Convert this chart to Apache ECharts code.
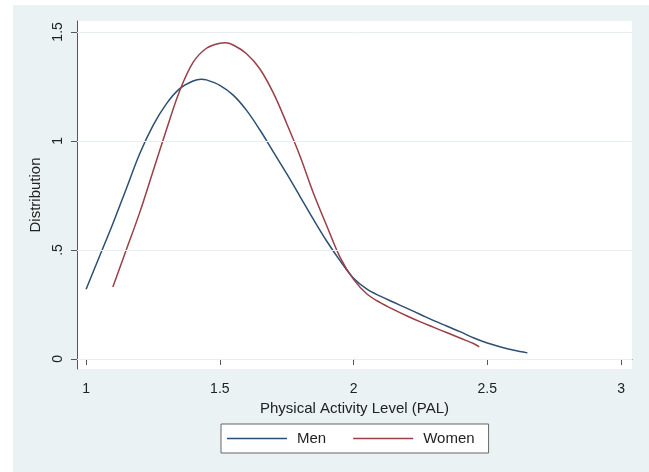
<!DOCTYPE html>
<html>
<head>
<meta charset="utf-8">
<script src="https://cdn.jsdelivr.net/npm/echarts@6/dist/echarts.min.js"></script>
<style>
html,body{margin:0;padding:0;background:#fff;}
#chart{width:649px;height:472px;}
</style>
</head>
<body>
<div id="chart"></div>
<script>
// Data
const menX = [1.00,1.05,1.10,1.15,1.20,1.25,1.30,1.35,1.40,1.43,1.45,1.50,1.55,1.60,1.65,1.70,1.75,1.80,1.85,1.90,1.95,2.00,2.05,2.10,2.15,2.20,2.25,2.30,2.35,2.40,2.45,2.50,2.55,2.60,2.65];
const menY = [0.32,0.47,0.62,0.78,0.94,1.07,1.17,1.24,1.275,1.283,1.28,1.255,1.21,1.14,1.05,0.95,0.85,0.745,0.64,0.54,0.45,0.37,0.32,0.288,0.26,0.232,0.204,0.176,0.15,0.124,0.096,0.073,0.055,0.04,0.028];
const womenX = [1.10,1.15,1.20,1.25,1.30,1.35,1.40,1.45,1.50,1.52,1.55,1.60,1.65,1.70,1.75,1.80,1.85,1.90,1.95,2.00,2.05,2.10,2.15,2.20,2.25,2.30,2.35,2.40,2.45,2.47];
const womenY = [0.33,0.50,0.67,0.86,1.05,1.23,1.36,1.425,1.448,1.45,1.44,1.40,1.33,1.22,1.08,0.93,0.76,0.61,0.465,0.365,0.298,0.258,0.226,0.197,0.17,0.145,0.12,0.095,0.07,0.056];
const xTicks = [1, 1.5, 2, 2.5, 3];
const xTickLabels = ['1', '1.5', '2', '2.5', '3'];
const yTicks = [0, 0.5, 1, 1.5];
const yTickLabels = ['0', '.5', '1', '1.5'];
const seriesNames = ['Men', 'Women'];

const FONT = 'Liberation Sans, Arial, sans-serif';
const TXT = '#222';
const AX = '#555';
const MEN = '#2c4f72';
const WOMEN = '#9a3e48';

const chart = echarts.init(document.getElementById('chart'), null, {renderer: 'canvas'});
chart.setOption({
  animation: false,
  backgroundColor: '#ffffff',
  graphic: [{
    type: 'rect', z: -100, silent: true,
    shape: {x: 13, y: 5, width: 636, height: 467},
    style: {fill: '#eaf2f3'}
  }],
  grid: {left: 77, right: 17, top: 21, bottom: 103, show: true, backgroundColor: '#ffffff', borderWidth: 0},
  xAxis: {
    type: 'value', min: 0.966, max: 3.041,
    name: 'Physical Activity Level (PAL)', nameLocation: 'middle', nameGap: 26,
    nameTextStyle: {fontFamily: FONT, fontSize: 15, color: TXT},
    axisLine: {show: true, lineStyle: {color: AX, width: 1}},
    axisTick: {show: true, length: 6, customValues: xTicks, lineStyle: {color: AX}},
    axisLabel: {customValues: xTicks, margin: 13, fontFamily: FONT, fontSize: 14, color: TXT,
      formatter: v => xTickLabels[xTicks.indexOf(v)] ?? ''},
    splitLine: {show: false}
  },
  yAxis: {
    type: 'value', min: -0.046, max: 1.55,
    name: 'Distribution', nameLocation: 'middle', nameGap: 30,
    nameTextStyle: {fontFamily: FONT, fontSize: 15, color: TXT},
    axisLine: {show: true, lineStyle: {color: AX, width: 1}},
    axisTick: {show: true, length: 6, customValues: yTicks, lineStyle: {color: AX}},
    axisLabel: {customValues: yTicks, rotate: 90, margin: 12, fontFamily: FONT, fontSize: 14, color: TXT,
      formatter: v => yTickLabels[yTicks.indexOf(v)] ?? ''},
    splitLine: {show: false}
  },
  legend: {
    left: 221, top: 424,
    data: [
      {name: seriesNames[0], icon: 'rect', itemStyle: {color: MEN}},
      {name: seriesNames[1], icon: 'rect', itemStyle: {color: WOMEN}}
    ],
    itemWidth: 60, itemHeight: 1.5, itemGap: 27,
    padding: [6, 14, 6, 6],
    borderColor: '#666', borderWidth: 1, backgroundColor: '#ffffff',
    textStyle: {fontFamily: FONT, fontSize: 15, color: TXT, padding: [0, 0, 0, 5], lineHeight: 17}
  },
  series: [
    {
      name: seriesNames[0], type: 'line', smooth: 0.35, symbol: 'none',
      data: menX.map((x, i) => [x, menY[i]]),
      lineStyle: {color: MEN, width: 1.5}, itemStyle: {color: MEN},
      markLine: {
        silent: true, symbol: 'none', label: {show: false},
        lineStyle: {color: '#e8eff0', width: 1, type: 'solid'},
        data: yTicks.map(v => ({yAxis: v}))
      },
      z: 3
    },
    {
      name: seriesNames[1], type: 'line', smooth: 0.35, symbol: 'none',
      data: womenX.map((x, i) => [x, womenY[i]]),
      lineStyle: {color: WOMEN, width: 1.5}, itemStyle: {color: WOMEN},
      z: 3
    }
  ]
});
</script>
</body>
</html>
